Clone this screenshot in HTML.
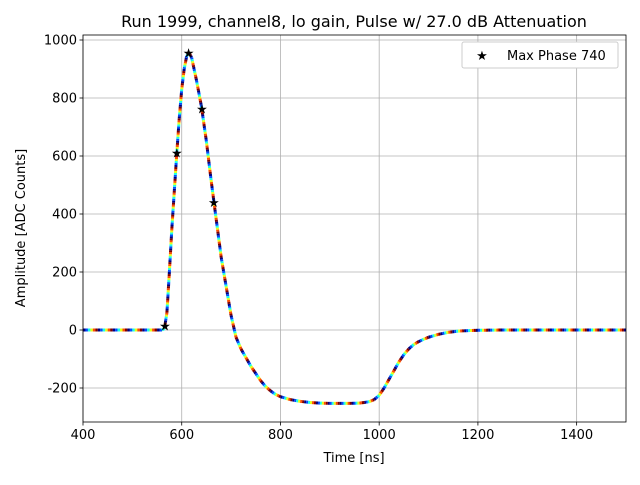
<!DOCTYPE html>
<html><head><meta charset="utf-8"><style>
body{margin:0;background:#fff}
text{font-family:"DejaVu Sans","Liberation Sans",sans-serif;fill:#000}
</style></head><body>
<svg id="c" width="640" height="480" xmlns="http://www.w3.org/2000/svg">
<rect width="640" height="480" fill="#fff"/>
<g id="grid"></g><g id="series"></g><g id="marks"></g><g id="axes"></g>
<text x="354" y="27" font-size="16" text-anchor="middle">Run 1999, channel8, lo gain, Pulse w/ 27.0 dB Attenuation</text>
<text x="354" y="462" font-size="13" text-anchor="middle">Time [ns]</text>
<text transform="translate(25,228) rotate(-90)" font-size="13" text-anchor="middle">Amplitude [ADC Counts]</text>
<g>
<rect x="462" y="42" width="156" height="26" rx="2" fill="#fff" stroke="#ccc"/>
<text x="482" y="60" font-size="13" text-anchor="middle">★</text>
<text x="507" y="60" font-size="13">Max Phase 740</text>
</g>
</svg>
<script>
const times=[400,410,420,430,440,450,460,470,480,490,500,510,520,530,540,550,560,565,570,575,580,585,590,595,600,605,610,615,620,625,630,640,650,660,670,680,690,700,710,720,730,740,750,760,770,780,790,800,820,840,860,880,900,920,940,960,970,980,990,1000,1010,1020,1030,1040,1050,1060,1070,1080,1090,1100,1120,1140,1160,1180,1200,1250,1300,1350,1400,1450,1500];
const amps=[0,0,0,0,0,0,0,0,0,0,0,0,0,0,0,0,0,5,60,200,350,480,610,730,830,900,945,955,940,900,860,770,650,510,380,250,150,50,-25,-65,-95,-125,-150,-175,-195,-210,-222,-230,-240,-246,-250,-252,-253,-253,-253,-252,-250,-247,-240,-225,-200,-170,-140,-110,-85,-65,-50,-40,-32,-25,-15,-8,-4,-2,-1,0,0,0,0,0,0];
const starT=[566,590,614,641,665];
const starA=[13,610,955,762,440];
const xTicks=[400,600,800,1000,1200,1400];
const yTicks=[-200,0,200,400,600,800,1000];
const X0=83,X1=626,Y0=35,Y1=422;
const xs=t=>X0+(t-400)/(1500-400)*(X1-X0);
const ys=v=>330+(0-v)*0.29;
const NS='http://www.w3.org/2000/svg';
function mk(tag,attrs,parent){const e=document.createElementNS(NS,tag);for(const k in attrs)e.setAttribute(k,attrs[k]);parent.appendChild(e);return e;}
const grid=document.getElementById('grid'),axes=document.getElementById('axes'),series=document.getElementById('series'),marks=document.getElementById('marks');
xTicks.forEach(t=>{const x=xs(t);
 const g=mk('line',{x1:x,x2:x,y1:Y0,y2:Y1,stroke:'#b0b0b0','stroke-width':0.8},grid);
 
 
 mk('line',{x1:x,x2:x,y1:Y1,y2:Y1+3.5,stroke:'#000','stroke-width':0.8},axes);
 const l=mk('text',{x:x,y:Y1+17,'font-size':13,'text-anchor':'middle'},axes);l.textContent=t;
 
 });
yTicks.forEach(v=>{const y=ys(v);
 const g=mk('line',{x1:X0,x2:X1,y1:y,y2:y,stroke:'#b0b0b0','stroke-width':0.8},grid);
 
 
 mk('line',{x1:X0-3.5,x2:X0,y1:y,y2:y,stroke:'#000','stroke-width':0.8},axes);
 const l=mk('text',{x:X0-6,y:y+4.5,'font-size':13,'text-anchor':'end'},axes);l.textContent=v;
 
 });
const fr=mk('rect',{x:X0,y:Y0,width:X1-X0,height:Y1-Y0,fill:'none',stroke:'#000','stroke-width':0.8},axes);


function jet(f){const r=Math.min(1,Math.max(0,1.5-Math.abs(4*f-3))),g=Math.min(1,Math.max(0,1.5-Math.abs(4*f-2))),b=Math.min(1,Math.max(0,1.5-Math.abs(4*f-1)));return `rgb(${r*255|0},${g*255|0},${b*255|0})`;}
let k=0;
for(let i=0;i<times.length-1;i++){
 const ax=xs(times[i]),ay=ys(amps[i]),bx=xs(times[i+1]),by=ys(amps[i+1]);
 const len=Math.hypot(bx-ax,by-ay);const n=Math.max(1,Math.round(len/2));
 for(let j=0;j<n;j++){
  const f0=j/n,f1=(j+1)/n;
  const s=mk('line',{x1:ax+(bx-ax)*f0,y1:ay+(by-ay)*f0,x2:ax+(bx-ax)*f1,y2:ay+(by-ay)*f1,stroke:jet((k%6)/5),'stroke-width':3,'stroke-linecap':'butt'},series);
  
  
  k++;
 }
}
starT.forEach((t,i)=>{const s=mk('text',{x:xs(t),y:ys(starA[i])+4.5,'font-size':13,'text-anchor':'middle'},marks);s.textContent='★';
 
 });
</script>
</body></html>
